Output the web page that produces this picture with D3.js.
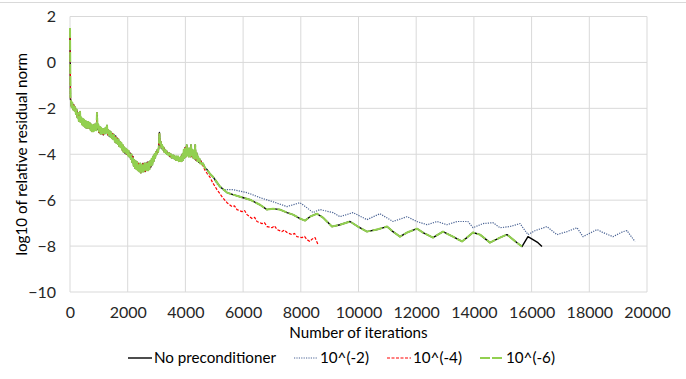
<!DOCTYPE html>
<html>
<head>
<meta charset="utf-8">
<script src="https://cdn.jsdelivr.net/npm/d3@7"></script>
<style>
  body { margin: 0; background: #fff; }
  svg { font-family: Lato, "Open Sans", sans-serif; }
</style>
</head>
<body>
<div id="chart"></div>
<script>
// shared start of all runs (iterations, log10 residual)
const commonStart = [
  [0, 1.5], [17, -1.63], [30, -1.65], [55, -1.95], [80, -1.75], [105, -2.05], [130, -1.85], [155, -2.1],
  [180, -1.95], [205, -2.25], [230, -2.05], [255, -2.4], [280, -2.2], [305, -2.55], [330, -2.3], [347, -2.15],
  [365, -2.6], [390, -2.4], [415, -2.7], [440, -2.45], [465, -2.75], [490, -2.5], [515, -2.8], [540, -2.55],
  [565, -2.85], [590, -2.6], [615, -2.85], [640, -2.6], [665, -2.85], [690, -2.65], [715, -2.95], [740, -2.7],
  [765, -3.0], [790, -2.75], [815, -3.0], [840, -2.7], [865, -2.95], [890, -2.7], [915, -2.95], [936, -2.2],
  [955, -2.9], [980, -2.7], [1005, -3.05], [1030, -2.8], [1055, -3.1], [1080, -2.85], [1105, -3.1],
  [1130, -2.9], [1155, -3.15], [1180, -2.9], [1205, -3.1], [1230, -2.85], [1255, -3.05], [1282, -2.75],
  [1305, -3.15], [1330, -2.95], [1355, -3.2], [1380, -3.0], [1405, -3.25], [1430, -3.05], [1455, -3.3],
  [1480, -3.1], [1505, -3.35], [1530, -3.15], [1555, -3.45], [1580, -3.2], [1605, -3.5], [1630, -3.3],
  [1655, -3.55], [1680, -3.35], [1705, -3.65], [1730, -3.45], [1755, -3.7], [1780, -3.5], [1805, -3.8],
  [1830, -3.6], [1855, -3.9], [1880, -3.7], [1905, -3.95], [1930, -3.75], [1955, -4.0], [1980, -3.8],
  [2005, -4.05], [2030, -3.85], [2055, -4.1], [2080, -3.95], [2105, -4.2], [2130, -4.0], [2155, -4.35],
  [2180, -4.1], [2205, -4.5], [2230, -4.25], [2255, -4.6], [2280, -4.3], [2305, -4.65], [2330, -4.35],
  [2355, -4.7], [2380, -4.4], [2405, -4.75], [2430, -4.4], [2455, -4.8], [2480, -4.45], [2505, -4.75],
  [2530, -4.4], [2555, -4.75], [2580, -4.4], [2605, -4.75], [2630, -4.4], [2655, -4.7], [2680, -4.35],
  [2705, -4.7], [2730, -4.35], [2755, -4.65], [2780, -4.3], [2805, -4.55], [2830, -4.2], [2855, -4.45],
  [2880, -4.1], [2905, -4.3], [2930, -4.0], [2955, -4.15], [2980, -3.9], [3005, -4.0], [3030, -3.8],
  [3055, -3.9], [3080, -3.65], [3100, -3.05], [3120, -3.6], [3145, -3.45], [3170, -3.75], [3195, -3.6],
  [3220, -3.8], [3245, -3.7], [3270, -3.9], [3295, -3.8], [3320, -3.95], [3345, -3.85], [3370, -4.0],
  [3395, -3.95], [3420, -4.05], [3445, -3.95], [3470, -4.1], [3495, -4.0], [3520, -4.15], [3545, -4.05],
  [3570, -4.15], [3595, -4.05], [3620, -4.2], [3645, -4.1], [3670, -4.25], [3695, -4.1], [3720, -4.25],
  [3745, -4.1], [3770, -4.3], [3795, -4.15], [3820, -4.3], [3845, -4.1], [3870, -4.3], [3895, -4.0],
  [3920, -4.25], [3945, -3.8], [3970, -4.15], [3995, -3.7], [4020, -4.1], [4045, -3.6], [4070, -4.05],
  [4095, -3.75], [4120, -4.1], [4145, -3.75], [4170, -4.1], [4195, -3.6], [4220, -4.1], [4245, -3.8],
  [4270, -4.15], [4295, -3.85], [4320, -4.2], [4340, -3.6], [4365, -4.25], [4390, -3.95], [4415, -4.3],
  [4440, -4.1], [4465, -4.35], [4490, -4.2], [4515, -4.4], [4540, -4.3]
];

const noPrecTail = [
  [4580, -4.45], [4610, -4.4], [4680, -4.6], [4748, -4.67], [4850, -4.85], [4956, -4.98], [5199, -5.41],
  [5442, -5.67], [5650, -5.76], [5892, -5.85], [6239, -5.98], [6585, -6.2], [6828, -6.41], [7036, -6.37],
  [7279, -6.41], [7521, -6.54], [7729, -6.63], [7972, -6.8], [8145, -6.89], [8318, -6.72], [8561, -6.59],
  [8769, -6.76], [9081, -7.15], [9358, -7.07], [9705, -6.93], [9982, -7.15], [10294, -7.37], [10641, -7.28],
  [10987, -7.15], [11195, -7.37], [11438, -7.59], [11680, -7.41], [12027, -7.24], [12235, -7.41],
  [12582, -7.63], [12928, -7.37], [13275, -7.59], [13587, -7.8], [13760, -7.63], [13968, -7.41],
  [14211, -7.5], [14557, -7.85], [14904, -7.63], [15146, -7.5], [15528, -7.89], [15666, -8.02],
  [15874, -7.59], [16048, -7.72], [16221, -7.85], [16360, -8.02]
];

const prec2Tail = [
  [4580, -4.45], [4610, -4.4], [4680, -4.6], [4748, -4.67], [4850, -4.85], [4956, -4.98], [5100, -5.3],
  [5303, -5.54], [5650, -5.54], [6135, -5.67], [6585, -5.89], [7036, -6.07], [7521, -6.28], [7972, -6.11],
  [8214, -6.33], [8422, -6.54], [8665, -6.41], [9115, -6.54], [9358, -6.72], [9809, -6.54], [10294, -6.85],
  [10745, -6.59], [11195, -6.93], [11680, -6.72], [12027, -6.93], [12374, -7.07], [12720, -6.93],
  [13067, -7.07], [13414, -6.93], [13795, -6.93], [13968, -7.2], [14315, -7.02], [14661, -6.98],
  [14904, -7.2], [15250, -7.15], [15597, -7.02], [15874, -7.5], [16117, -7.33], [16533, -7.15],
  [16880, -7.5], [17226, -7.37], [17573, -7.2], [17781, -7.59], [18266, -7.28], [18474, -7.41],
  [18820, -7.59], [19167, -7.37], [19306, -7.33], [19583, -7.8]
];

const prec4Tail = [
  [4610, -4.5], [4679, -4.7], [4760, -4.85], [4852, -5.0], [4950, -5.25], [5095, -5.54], [5268, -5.85],
  [5442, -6.11], [5615, -6.28], [5700, -6.25], [5788, -6.41], [5962, -6.5], [6050, -6.45], [6135, -6.63],
  [6308, -6.8], [6400, -6.75], [6481, -6.93], [6655, -7.02], [6740, -6.98], [6828, -7.15], [7001, -7.2],
  [7090, -7.12], [7175, -7.28], [7348, -7.37], [7430, -7.3], [7521, -7.41], [7694, -7.5], [7780, -7.45],
  [7868, -7.59], [8041, -7.63], [8130, -7.58], [8214, -7.72], [8318, -7.8], [8388, -7.7], [8492, -7.63],
  [8596, -7.93]
];

const prec6Tail = noPrecTail.filter(d => d[0] <= 15666);

const seriesNames = ["No preconditioner", "10^(-2)", "10^(-4)", "10^(-6)"];
const seriesData = [
  commonStart.concat(noPrecTail),
  commonStart.concat(prec2Tail),
  commonStart.concat(prec4Tail),
  commonStart.concat(prec6Tail)
];
const seriesColors = ["#000000", "#4a6394", "#ff0000", "#92d050"];
const seriesDash = [null, "1.2,1.2", "3,1.5", "10,2"];
const seriesWidth = [1.4, 1.2, 1.2, 2];

const xTicks = d3.range(0, 20001, 2000);
const yTicks = d3.range(-10, 2.1, 2);

const width = 686, height = 379;
const margin = { top: 16.5, right: 39, bottom: 87, left: 70 };

const svg = d3.select('#chart').append('svg')
  .attr('width', width)
  .attr('height', height);

const xScale = d3.scaleLinear().domain([0, 20000]).range([margin.left, width - margin.right]);
const yScale = d3.scaleLinear().domain([-10, 2]).range([height - margin.bottom, margin.top]);

// chart frame top edge
svg.append('line')
  .attr('x1', 0).attr('x2', width)
  .attr('y1', 2.5).attr('y2', 2.5)
  .attr('stroke', '#d9d9d9');

// grid
svg.append('g')
  .selectAll('line')
  .data(yTicks)
  .enter().append('line')
  .attr('x1', xScale(0)).attr('x2', xScale(20000))
  .attr('y1', d => yScale(d)).attr('y2', d => yScale(d))
  .attr('stroke', '#d9d9d9').attr('stroke-width', 1);

svg.append('g')
  .selectAll('line')
  .data(xTicks)
  .enter().append('line')
  .attr('x1', d => xScale(d)).attr('x2', d => xScale(d))
  .attr('y1', yScale(2)).attr('y2', yScale(-10))
  .attr('stroke', '#d9d9d9').attr('stroke-width', 1);

// axes (labels only)
const yAxis = d3.axisLeft(yScale).tickValues(yTicks).tickSize(0).tickPadding(14);
const xAxis = d3.axisBottom(xScale).tickValues(xTicks).tickSize(0).tickPadding(15).tickFormat(d3.format('d'));

const gy = svg.append('g')
  .attr('transform', `translate(${margin.left}, 0)`)
  .call(yAxis);
const gx = svg.append('g')
  .attr('transform', `translate(0, ${height - margin.bottom})`)
  .call(xAxis);

[gx, gy].forEach(g => {
  g.select('.domain').remove();
  g.selectAll('text')
    .style('font-family', 'Lato, sans-serif')
    .style('font-size', '16px')
    .attr('fill', '#262626');
});

// series
const line = d3.line()
  .x(d => xScale(d[0]))
  .y(d => yScale(d[1]));

seriesData.forEach((data, i) => {
  svg.append('path')
    .datum(data)
    .attr('fill', 'none')
    .attr('stroke', seriesColors[i])
    .attr('stroke-width', seriesWidth[i])
    .attr('stroke-dasharray', seriesDash[i])
    .attr('stroke-linejoin', 'round')
    .attr('d', line);
});

// titles
svg.append('text')
  .attr('x', (xScale(0) + xScale(20000)) / 2)
  .attr('y', 338)
  .attr('text-anchor', 'middle')
  .style('font-size', '15.2px')
  .attr('fill', '#000')
  .text('Number of iterations');

svg.append('text')
  .attr('transform', `translate(27, ${(yScale(2) + yScale(-10)) / 2}) rotate(-90)`)
  .attr('text-anchor', 'middle')
  .style('font-size', '15.2px')
  .attr('fill', '#000')
  .text('log10 of relative residual norm');

// legend
const legendX = [128, 294, 387, 480];
const legend = svg.selectAll('.legend')
  .data(seriesNames)
  .enter().append('g')
  .attr('class', 'legend')
  .attr('transform', (d, i) => `translate(${legendX[i]}, 358)`);

legend.append('line')
  .attr('x1', 0).attr('x2', 24)
  .attr('y1', 0).attr('y2', 0)
  .attr('stroke', (d, i) => seriesColors[i])
  .attr('stroke-width', (d, i) => seriesWidth[i])
  .attr('stroke-dasharray', (d, i) => seriesDash[i]);

legend.append('text')
  .attr('x', 26)
  .attr('y', 5)
  .style('font-size', '15.2px')
  .attr('fill', '#000')
  .text(d => d);
</script>
</body>
</html>
